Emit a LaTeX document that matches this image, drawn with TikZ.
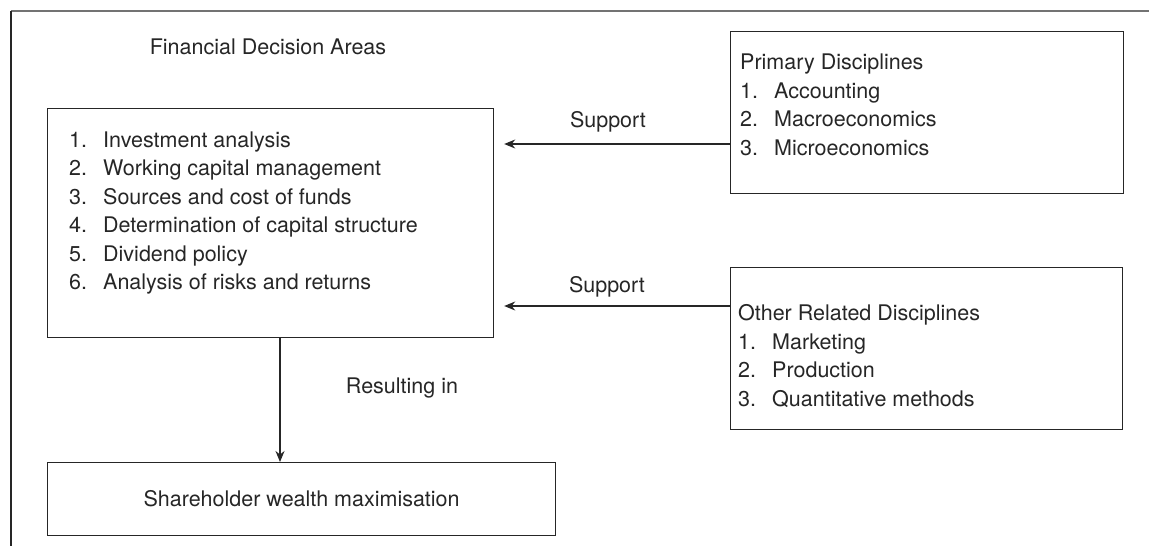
\documentclass[tikz,border=0pt]{standalone}
\usepackage{fontspec}
\setmainfont{TeX Gyre Heros}
\usetikzlibrary{arrows.meta}
\definecolor{ink}{HTML}{262626}
\newcommand\numitem[2]{\makebox[34pt][l]{#1}#2}
\tikzset{
  every node/.style={text=ink, font=\fontsize{21.5}{28.5}\selectfont, inner sep=0pt},
  box/.style={draw=ink, line width=1.2pt, anchor=north west},
  listtext/.style={align=left, anchor=west},
  arr/.style={draw=ink, line width=1.2pt, -{Stealth[length=11pt, width=9pt, inset=3.5pt]}, shorten >=10pt},
  lbl/.style={anchor=center},
}
\begin{document}
\begin{tikzpicture}[x=1pt, y=-1pt]
  \useasboundingbox (0,0) rectangle (1149,546);
  % outer frame (top and left sides only)
  \draw[black!55, line width=1.3pt] (11,11) -- (1149,11);
  \draw[ink, line width=1.2pt] (11,11) -- (11,546);

  % financial decision areas
  \node[lbl] (title) at (268,47) {Financial Decision Areas};
  \node[box, minimum width=446pt, minimum height=229pt] (fda) at (47,108) {};
  \node[listtext] (fdalist) at (69,213) {%
    \numitem{1.}{Investment analysis}\\
    \numitem{2.}{Working capital management}\\
    \numitem{3.}{Sources and cost of funds}\\
    \numitem{4.}{Determination of capital structure}\\
    \numitem{5.}{Dividend policy}\\
    \numitem{6.}{Analysis of risks and returns}};

  % primary disciplines
  \node[box, minimum width=393pt, minimum height=162pt] (prim) at (730,31) {};
  \node[listtext] (primlist) at (740,105) {%
    Primary Disciplines\\
    \numitem{1.}{Accounting}\\
    \numitem{2.}{Macroeconomics}\\
    \numitem{3.}{Microeconomics}};

  % other related disciplines
  \node[box, minimum width=392pt, minimum height=162pt] (other) at (730,267) {};
  \node[listtext] (otherlist) at (738,356) {%
    Other Related Disciplines\\
    \numitem{1.}{Marketing}\\
    \numitem{2.}{Production}\\
    \numitem{3.}{Quantitative methods}};

  % outcome
  \node[box, minimum width=508pt, minimum height=73pt] (wealth) at (47,462) {};
  \node[lbl] (wealthtext) at (wealth.center) {Shareholder wealth maximisation};

  % connectors
  \coordinate (pa) at (prim.west |- 0,144);
  \coordinate (pb) at (fda.east |- 0,144);
  \draw[arr] (pa) -- (pb);
  \coordinate (oa) at (other.west |- 0,306);
  \coordinate (ob) at (fda.east |- 0,306);
  \draw[arr] (oa) -- (ob);
  \coordinate (da) at (fda.south -| 280,0);
  \coordinate (db) at (wealth.north -| 280,0);
  \draw[arr, shorten >=0pt] (da) -- (db);

  \node[lbl] (sup1) at (608,122) {Support};
  \node[lbl] (sup2) at (607,287) {Support};
  \node[lbl] (result) at (402,388) {Resulting in};
\end{tikzpicture}
\end{document}
